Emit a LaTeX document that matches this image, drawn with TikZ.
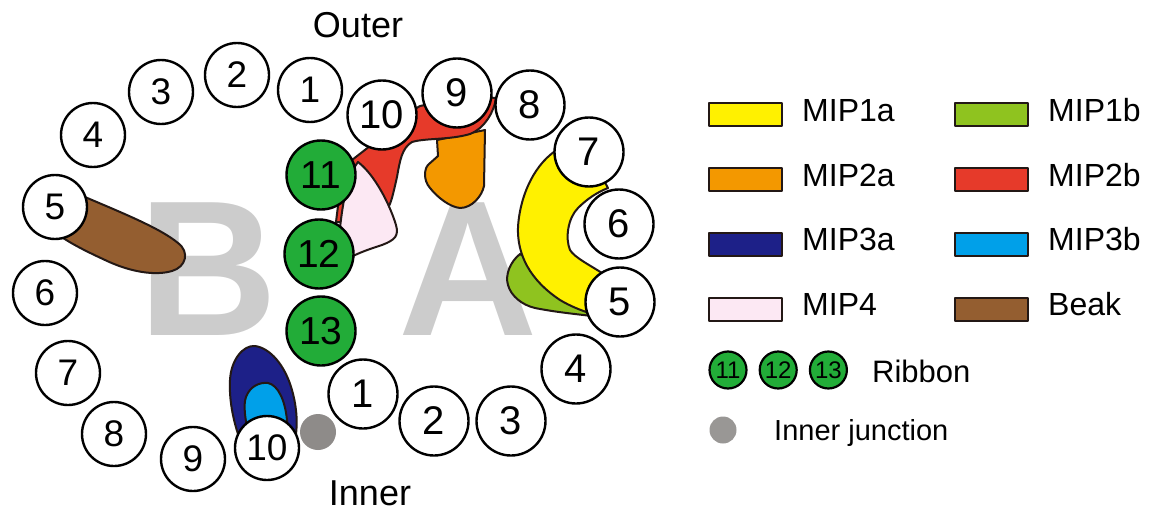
\documentclass[tikz,border=0pt]{standalone}
\usepackage{fontspec}
\setmainfont{Liberation Sans}
\usepackage{xcolor}
\definecolor{mipyellow}{RGB}{255,241,0}
\definecolor{mipgreen}{RGB}{143,195,31}
\definecolor{miporange}{RGB}{243,152,0}
\definecolor{mipred}{RGB}{230,58,42}
\definecolor{mipnavy}{RGB}{29,32,136}
\definecolor{mipcyan}{RGB}{0,160,233}
\definecolor{mippink}{RGB}{252,232,243}
\definecolor{beakbrown}{RGB}{148,94,48}
\definecolor{ribbongreen}{RGB}{34,172,56}
\definecolor{junctiongray}{RGB}{142,139,137}
\definecolor{outlinedark}{RGB}{35,24,21}
\definecolor{lettergray}{RGB}{204,204,204}
\usetikzlibrary{positioning}

\begin{document}
\begin{tikzpicture}[
    % GLOBAL CFG
    x=1pt, y=-1pt,
    % Styles
    ring/.style={% protofilament circles of ring B
        circle,
        draw,
        fill=white,
        line width=2.4pt,
        inner sep=0pt,
        minimum size=64pt,
        font=\fontsize{37}{37}\selectfont,
        },
    ringA/.style={% ring A is a bit bigger
        ring,
        minimum size=69pt,
        font=\fontsize{40}{40}\selectfont,
        },
    ribbon/.style={% the ribbon protofilaments
        ringA,
        fill=ribbongreen,
        font=\fontsize{39}{39}\selectfont,
        },
    part/.style={% MIP densities
        draw=outlinedark,
        line width=2pt,
        line join=round,
        },
    key/.style={% legend boxes
        part,
        rectangle,
        minimum width=73pt,
        minimum height=23pt,
        inner sep=0pt,
        },
    keytext/.style={% legend texts
        anchor=base west,
        inner sep=0pt,
        font=\fontsize{32}{32}\selectfont,
        },
    ribbonkey/.style={% small ribbon circles in the legend
        circle,
        draw=black,
        line width=2.2pt,
        fill=ribbongreen,
        minimum size=37pt,
        inner sep=0pt,
        font=\fontsize{24}{24}\selectfont,
        },
    bigletter/.style={% the A and B tubules
        anchor=base,
        inner sep=0pt,
        text=lettergray,
        font=\fontsize{193}{193}\selectfont\bfseries,
        },
    side/.style={% Outer / Inner
        inner sep=0pt,
        anchor=base,
        font=\fontsize{36}{36}\selectfont,
        },
    ]

\useasboundingbox (0,0) rectangle (1152,511);

% Letters in the back
    \node[bigletter] (letB) at (208,335) {B};
    \node[bigletter] (letA) at (468,335) {A};

% MIPs and beak
    % Beak
    \path[part, fill=beakbrown] (60,195) -- (85,197)
        .. controls (120,212) and (160,228) .. (178,243)
        .. controls (190,252) and (186,267) .. (172,271)
        .. controls (155,276) and (130,272) .. (105,260)
        .. controls (90,253) and (75,246) .. (60,236) -- cycle;

    % MIP3a and MIP3b
    \path[part, fill=mipnavy] (240,440)
        .. controls (233,420) and (229,400) .. (230,380)
        .. controls (231,360) and (243,345) .. (255,346)
        .. controls (270,348) and (285,365) .. (292,390)
        .. controls (297,408) and (298,425) .. (295,440) -- cycle;
    \path[part, fill=mipcyan] (250,440)
        .. controls (245,420) and (243,405) .. (246,397)
        .. controls (250,386) and (260,382) .. (268,383)
        .. controls (278,385) and (285,400) .. (287,420)
        -- (287,440) -- cycle;

    % MIP2a
    \path[part, fill=miporange] (437,140) -- (485,130) -- (484,186)
        .. controls (482,196) and (472,208) .. (460,208)
        .. controls (450,207) and (438,198) .. (430,188)
        .. controls (423,180) and (424,168) .. (429,164)
        -- (438,156) -- cycle;

    % MIP2b
    \path[part, fill=mipred] (336,222) -- (340,190) -- (352,160)
        -- (370,146) -- (400,118) -- (420,106) -- (470,96) -- (496,98)
        .. controls (494,112) and (485,128) .. (470,134)
        .. controls (450,140) and (425,138) .. (412,142)
        .. controls (402,148) and (400,160) .. (397,177)
        .. controls (394,190) and (392,200) .. (389,206)
        -- (360,222) -- cycle;

    % MIP4
    \path[part, fill=mippink] (340,228)
        .. controls (343,200) and (348,175) .. (358,162)
        .. controls (375,175) and (390,205) .. (396,225)
        .. controls (399,236) and (395,240) .. (382,245)
        .. controls (370,249) and (360,252) .. (345,260) -- cycle;

    % MIP1b under MIP1a
    \path[part, fill=mipgreen] (520,254)
        .. controls (510,262) and (505,275) .. (508,285)
        .. controls (511,296) and (522,305) .. (535,308)
        .. controls (555,312) and (575,314) .. (592,316)
        -- (592,300) -- cycle;
    % MIP1a
    \path[part, fill=mipyellow] (560,148)
        .. controls (535,162) and (520,195) .. (518,227)
        .. controls (517,255) and (530,280) .. (560,300)
        .. controls (570,306) and (580,310) .. (592,314)
        -- (605,275)
        .. controls (590,265) and (575,258) .. (570,250)
        .. controls (565,238) and (568,218) .. (578,208)
        .. controls (588,198) and (598,192) .. (608,188)
        -- (590,155) -- cycle;

% Ring B
    \node[ring] (b1) at (310,90) {1};
    \node[ring] (b2) at (237,75) {2};
    \node[ring] (b3) at (161,92) {3};
    \node[ring] (b4) at (93,135) {4};
    \node[ring] (b5) at (55,207) {5};
    \node[ring] (b6) at (45,293) {6};
    \node[ring] (b7) at (68,373) {7};
    \node[ring] (b8) at (114,434) {8};
    \node[ring] (b9) at (193,459) {9};
    \node[ring] (b10) at (267,448) {10};

% Ring A
    \node[ringA] (a1) at (363,394) {1};
    \node[ringA] (a2) at (434,421) {2};
    \node[ringA] (a3) at (511,421) {3};
    \node[ringA] (a4) at (576,369) {4};
    \node[ringA] (a5) at (620,302) {5};
    \node[ringA] (a6) at (619,224) {6};
    \node[ringA] (a7) at (589,152) {7};
    \node[ringA] (a8) at (530,105) {8};
    \node[ringA] (a9) at (457,93) {9};
    \node[ringA] (a10) at (382,115) {10};

    % Ribbon
    \node[ribbon] (r11) at (321,175) {11};
    \node[ribbon] (r12) at (319,254) {12};
    \node[ribbon] (r13) at (321,331) {13};

    % Inner junction
    \node[circle, fill=junctiongray, minimum size=36pt, inner sep=0pt] (ij) at (318,432) {};

    \node[side] (outer) at (358,38) {Outer};
    \node[side] (inner) at (370,505) {Inner};

% Legend
    \node[key, fill=mipyellow] (key1a) at (745.5,114.5) {};
    \node[key, fill=miporange] (key2a) at (745.5,179.5) {};
    \node[key, fill=mipnavy]   (key3a) at (745.5,244) {};
    \node[key, fill=mippink]   (key4)  at (745.5,309) {};
    \node[key, fill=mipgreen]  (key1b) at (991.5,114.5) {};
    \node[key, fill=mipred]    (key2b) at (991.5,179.5) {};
    \node[key, fill=mipcyan]   (key3b) at (991.5,244) {};
    \node[key, fill=beakbrown] (keybeak) at (991.5,309) {};

    \node[keytext] (lab1a) at (802,121.5) {MIP1a};
    \node[keytext] (lab2a) at (802,186.5) {MIP2a};
    \node[keytext] (lab3a) at (802,250.5) {MIP3a};
    \node[keytext] (lab4)  at (802,315) {MIP4};
    \node[keytext] (lab1b) at (1048,121.5) {MIP1b};
    \node[keytext] (lab2b) at (1048,186.5) {MIP2b};
    \node[keytext] (lab3b) at (1048,250.5) {MIP3b};
    \node[keytext] (labbeak) at (1048,315) {Beak};

    \node[ribbonkey] (k11) at (728,370) {11};
    \node[ribbonkey, right=11pt of k11] (k12) {12};
    \node[ribbonkey, right=11pt of k12] (k13) {13};
    \node[keytext, font=\fontsize{31}{31}\selectfont] (labribbon) at (872,382) {Ribbon};

    \node[circle, fill=junctiongray!90!white, minimum size=27pt, inner sep=0pt] (keyij) at (723,430) {};
    \node[keytext, font=\fontsize{29}{29}\selectfont] (labij) at (774,440) {Inner junction};

\end{tikzpicture}
\end{document}
